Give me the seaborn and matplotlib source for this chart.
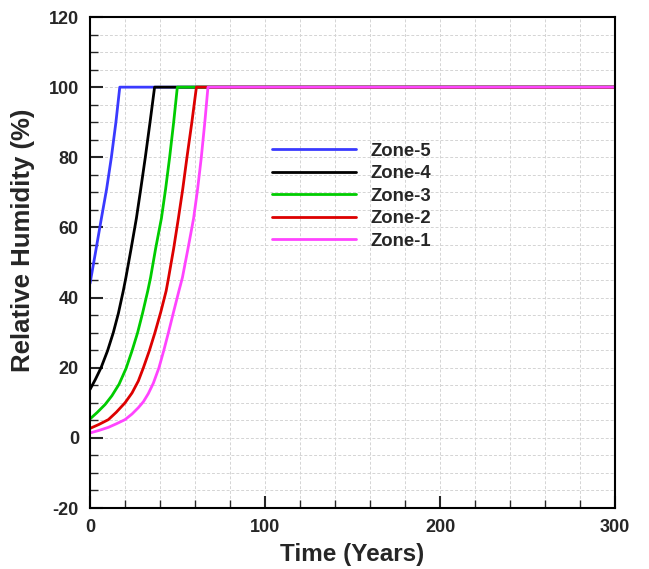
import numpy as np
import pandas as pd
import matplotlib
matplotlib.use("Agg")
import matplotlib.pyplot as plt
import seaborn as sns
from matplotlib.ticker import MultipleLocator

# ---- data ----
zones = ["Zone-5", "Zone-4", "Zone-3", "Zone-2", "Zone-1"]
colors = ["#3a3aff", "#000000", "#00cc00", "#dd0000", "#ff44ff"]

t_z5 = [0, 3, 6.5, 9.5, 12.2, 14.8, 17, 300]
rh_z5 = [44, 52.5, 62.6, 71, 80, 90, 100, 100]

t_z4 = [0, 3, 6.3, 10, 13.3, 16.2, 19, 20.5, 23.5, 26.5, 29, 31.6, 34.3, 36.9, 300]
rh_z4 = [13.8, 16.6, 20, 24.8, 30, 35.5, 41.9, 45.7, 54, 62.6, 71, 80, 90, 100, 100]

t_z3 = [0, 4, 8.6, 12.5, 16.6, 20.6, 24, 27.2, 30, 33, 34.6, 37.5, 40.8, 43.2, 45.5, 47.8, 49.9, 300]
rh_z3 = [5.4, 7.2, 9.5, 12, 15.3, 19.8, 24.8, 30, 35.5, 41.9, 45.7, 54, 62.6, 71, 80, 90, 100, 100]

t_z2 = [0, 5, 10.5, 15, 20, 24, 27.6, 30.5, 34, 37.1, 40.5, 43.5, 44.9, 47.8, 50.5, 53, 55.4, 58.2, 60.8, 300]
rh_z2 = [2.7, 3.8, 5.2, 7.3, 10, 12.8, 16.2, 20, 25, 30, 36, 41.9, 45.7, 54, 62.6, 71, 80, 90, 100, 100]

t_z1 = [0, 5, 10.5, 15, 20, 24, 27.6, 30.5, 33.3, 36.2, 39.4, 42.2, 44.8, 47.8, 50.8, 52.8, 56, 59.2, 61.5, 63.6, 65.6, 67.4, 300]
rh_z1 = [1.4, 2.1, 3.0, 4.0, 5.2, 6.8, 8.6, 10.3, 12.6, 15.6, 20, 25, 30, 36, 41.9, 45.7, 54, 62.6, 71, 80, 90, 100, 100]

series_t = [t_z5, t_z4, t_z3, t_z2, t_z1]
series_rh = [rh_z5, rh_z4, rh_z3, rh_z2, rh_z1]

frames = []
for name, tt, rr in zip(zones, series_t, series_rh):
    frames.append(pd.DataFrame({"Time": tt, "RH": rr, "Zone": name}))
df = pd.concat(frames, ignore_index=True)

# ---- style ----
sns.set_theme(style="white")
plt.rcParams["font.family"] = ["Liberation Sans", "DejaVu Sans"]
plt.rcParams["font.weight"] = "bold"
plt.rcParams["axes.unicode_minus"] = False

fig = plt.figure(figsize=(6.49, 5.69), dpi=100)
ax = fig.add_axes([0.1387, 0.1072, 0.8089, 0.8629])

sns.lineplot(data=df, x="Time", y="RH", hue="Zone", hue_order=zones,
             palette=colors, sort=False, estimator=None, linewidth=2.0, ax=ax)

ax.set_xlim(0, 300)
ax.set_ylim(-20, 120)
ax.xaxis.set_major_locator(MultipleLocator(100))
ax.xaxis.set_minor_locator(MultipleLocator(20))
ax.yaxis.set_major_locator(MultipleLocator(20))
ax.yaxis.set_minor_locator(MultipleLocator(5))

ax.grid(True, which="both", linestyle=(0, (3, 2)), color="#d4d4d4", linewidth=0.7)
ax.set_axisbelow(True)

ax.tick_params(axis="both", which="major", direction="in", length=9, width=1.5,
               labelsize=13, pad=8, top=False, right=False, bottom=True, left=True)
ax.tick_params(axis="both", which="minor", direction="in", length=5.5, width=1.0,
               top=False, right=False, bottom=True, left=True)
for lab in ax.get_xticklabels() + ax.get_yticklabels():
    lab.set_fontweight("bold")

for sp in ax.spines.values():
    sp.set_color("black")
    sp.set_linewidth(1.5)

ax.set_xlabel("Time (Years)", fontsize=17.5, fontweight="bold", labelpad=5)
ax.set_ylabel("Relative Humidity (%)", fontsize=18.5, fontweight="bold")
ax.yaxis.set_label_coords(-0.104, 0.545)

leg = ax.legend(loc="upper left", bbox_to_anchor=(0.347, 0.744), frameon=False,
                handlelength=4.55, handletextpad=0.75, labelspacing=0.3,
                borderpad=0, borderaxespad=0,
                prop={"size": 13.3, "weight": "bold"})
for line in leg.get_lines():
    line.set_linewidth(2.0)

fig.savefig("out.png", dpi=100)
